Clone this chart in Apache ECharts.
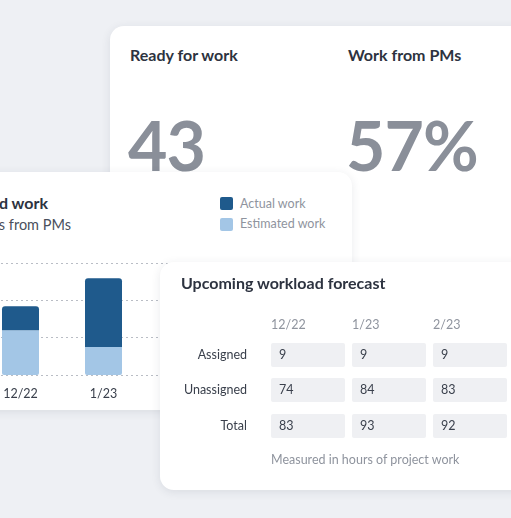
<!DOCTYPE html>
<html><head><meta charset="utf-8">
<script src="https://cdn.jsdelivr.net/npm/echarts@6/dist/echarts.min.js"></script>
<style>
body{margin:0;width:511px;height:518px;background:#eef0f4;overflow:hidden;position:relative;font-family:Lato,"Noto Sans",sans-serif;color:#2d3340}
.card{position:absolute;background:#fff;border-radius:14px;box-shadow:0 2px 10px rgba(40,50,70,0.10);overflow:hidden}
.abs{position:absolute;white-space:nowrap}
.h{font-weight:700;font-size:16px;color:#2d3340}
.big{font-size:68px;color:#8a8f99;font-weight:700;letter-spacing:-1px}
.g{color:#8f949e;font-size:12.5px}
.cell{position:absolute;width:74px;height:24px;background:#eff0f3;border-radius:2px;font-size:12.5px;line-height:24px;padding-left:8px;box-sizing:border-box;color:#3a404c}
.lab{position:absolute;width:120px;text-align:right;font-size:12.5px;color:#3a404c}
</style></head><body>
<div class="card" style="left:110px;top:26px;width:430px;height:240px">
  <div class="abs h" style="left:20px;top:19px">Ready for work</div>
  <div class="abs h" style="left:238px;top:19px">Work from PMs</div>
  <div class="abs big" style="left:18px;top:78px">43</div>
  <div class="abs big" style="left:236px;top:78px">57%</div>
</div>
<div class="card" style="left:-20px;top:172px;width:372px;height:238px">
  <div class="abs h" style="right:304px;top:21px">Actual and estimated work</div>
  <div class="abs" style="right:281px;top:44px;font-size:14.5px;color:#4a505c">Hours from PMs</div>
  <div class="abs" style="left:240px;top:25px;width:13px;height:13px;background:#1f5a8c;border-radius:2px"></div>
  <div class="abs g" style="left:260px;top:24px">Actual work</div>
  <div class="abs" style="left:240px;top:46px;width:13px;height:13px;background:#a3c6e6;border-radius:2px"></div>
  <div class="abs g" style="left:260px;top:44px">Estimated work</div>
  <div id="c" style="position:absolute;left:-84px;top:0;width:332px;height:238px"></div>
</div>
<div class="card" style="left:160px;top:262px;width:370px;height:228px">
  <div class="abs h" style="left:21px;top:11px">Upcoming workload forecast</div>
  <div id="tbl"></div>
  <div class="abs g" style="left:111px;top:190px">Measured in hours of project work</div>
</div>
<script>
const categories=["11/22","12/22","1/23","2/23"];
const estimated=[10,12,7.5,11];
const actual=[8,6.4,18.4,9];
const cols=["12/22","1/23","2/23"];
const rows=["Assigned","Unassigned","Total"];
const table=[[9,9,9],[74,84,83],[83,93,92]];

const chart=echarts.init(document.getElementById('c'));
chart.setOption({
  animation:false,
  grid:{left:0,right:0,top:91,bottom:35,outerBoundsMode:'none',containLabel:false},
  xAxis:{type:'category',data:categories,axisLine:{show:false},axisTick:{show:false},
    axisLabel:{margin:12,fontSize:12.5,color:'#3a404c',fontFamily:'Lato'}},
  yAxis:{type:'value',min:0,max:30,interval:10,axisLabel:{show:false},
    splitLine:{lineStyle:{type:[2,3],color:'#b9bdc5'}}},
  series:[
    {type:'bar',stack:'a',data:estimated,barWidth:37,itemStyle:{color:'#a3c6e6',borderRadius:[0,0,2,2]}},
    {type:'bar',stack:'a',data:actual,barWidth:37,itemStyle:{color:'#1f5a8c',borderRadius:[3,3,0,0]}}
  ]
});

let h='';
const xs=[111,192,273], ys=[81,116,152];
cols.forEach((c,i)=>{h+=`<div class="abs g" style="left:${xs[i]}px;top:55px">${c}</div>`});
rows.forEach((r,j)=>{
  h+=`<div class="lab" style="left:-33px;top:${ys[j]+4}px">${r}</div>`;
  table[j].forEach((v,i)=>{h+=`<div class="cell" style="left:${xs[i]}px;top:${ys[j]}px">${v}</div>`});
});
document.getElementById('tbl').innerHTML=h;
</script>
</body></html>
